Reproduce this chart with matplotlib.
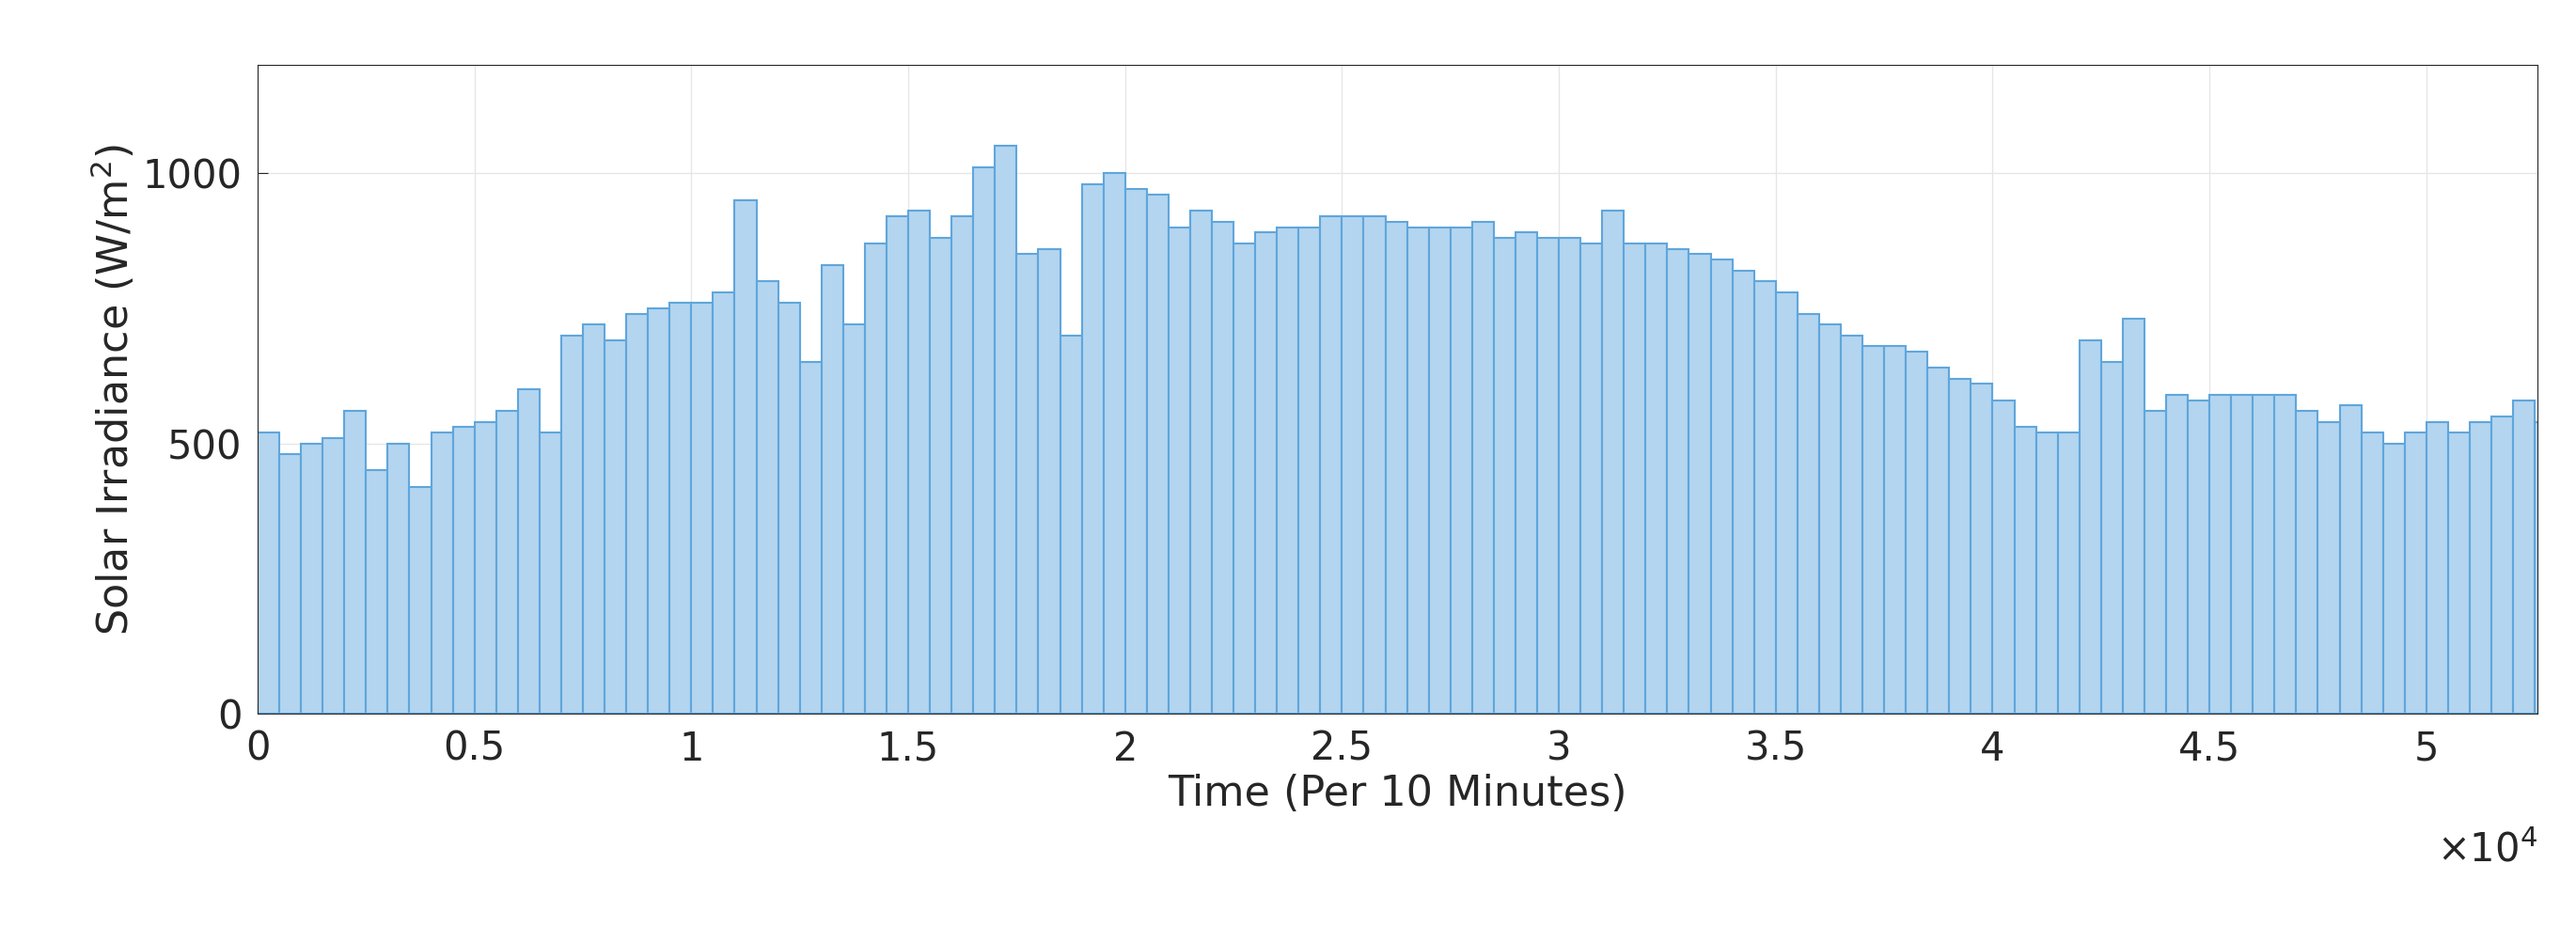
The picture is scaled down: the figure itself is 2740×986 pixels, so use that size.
import numpy as np
import matplotlib.pyplot as plt

# peak irradiance per bin of 500 ten-minute samples
bin_step = 500
peaks = [520, 480, 500, 510, 560, 450, 500, 420, 520, 530,
         540, 560, 600, 520, 700, 720, 690, 740, 750, 760,
         760, 780, 950, 800, 760, 650, 830, 720, 870, 920,
         930, 880, 920, 1010, 1050, 850, 860, 700, 980, 1000,
         970, 960, 900, 930, 910, 870, 890, 900, 900, 920,
         920, 920, 910, 900, 900, 900, 910, 880, 890, 880,
         880, 870, 930, 870, 870, 860, 850, 840, 820, 800,
         780, 740, 720, 700, 680, 680, 670, 640, 620, 610,
         580, 530, 520, 520, 690, 650, 730, 560, 590, 580,
         590, 590, 590, 590, 560, 540, 570, 520, 500, 520,
         540, 520, 540, 550, 580, 540]
x = np.arange(len(peaks)) * bin_step

fig = plt.figure(figsize=(27.4, 9.86), dpi=100)
ax = fig.add_axes([0.10, 0.23, 0.885, 0.70])

ax.bar(x, peaks, width=bin_step, align='edge', color='#b3d5ef',
       edgecolor='#5fa6dc', linewidth=1.5)

ax.set_xlim(0, 52560)
ax.set_ylim(0, 1200)
ax.set_xticks(np.arange(0, 52560, 5000))
ax.set_xticklabels(['0', '0.5', '1', '1.5', '2', '2.5', '3', '3.5', '4', '4.5', '5'])
ax.set_yticks([0, 500, 1000])
ax.grid(True, color='#e6e6e6', linewidth=1)
ax.set_axisbelow(True)
for s in ax.spines.values():
    s.set_color('#262626')
ax.tick_params(labelsize=30, colors='#262626', direction='in', length=8, pad=12)
ax.set_xlabel('Time (Per 10 Minutes)', fontsize=32, color='#262626', labelpad=4)
ax.set_ylabel('Solar Irradiance (W/m$^2$)', fontsize=32, color='#262626')
fig.text(0.985, 0.07, r'$\times10^4$', fontsize=30, ha='right', color='#262626')

fig.savefig('out.png')
